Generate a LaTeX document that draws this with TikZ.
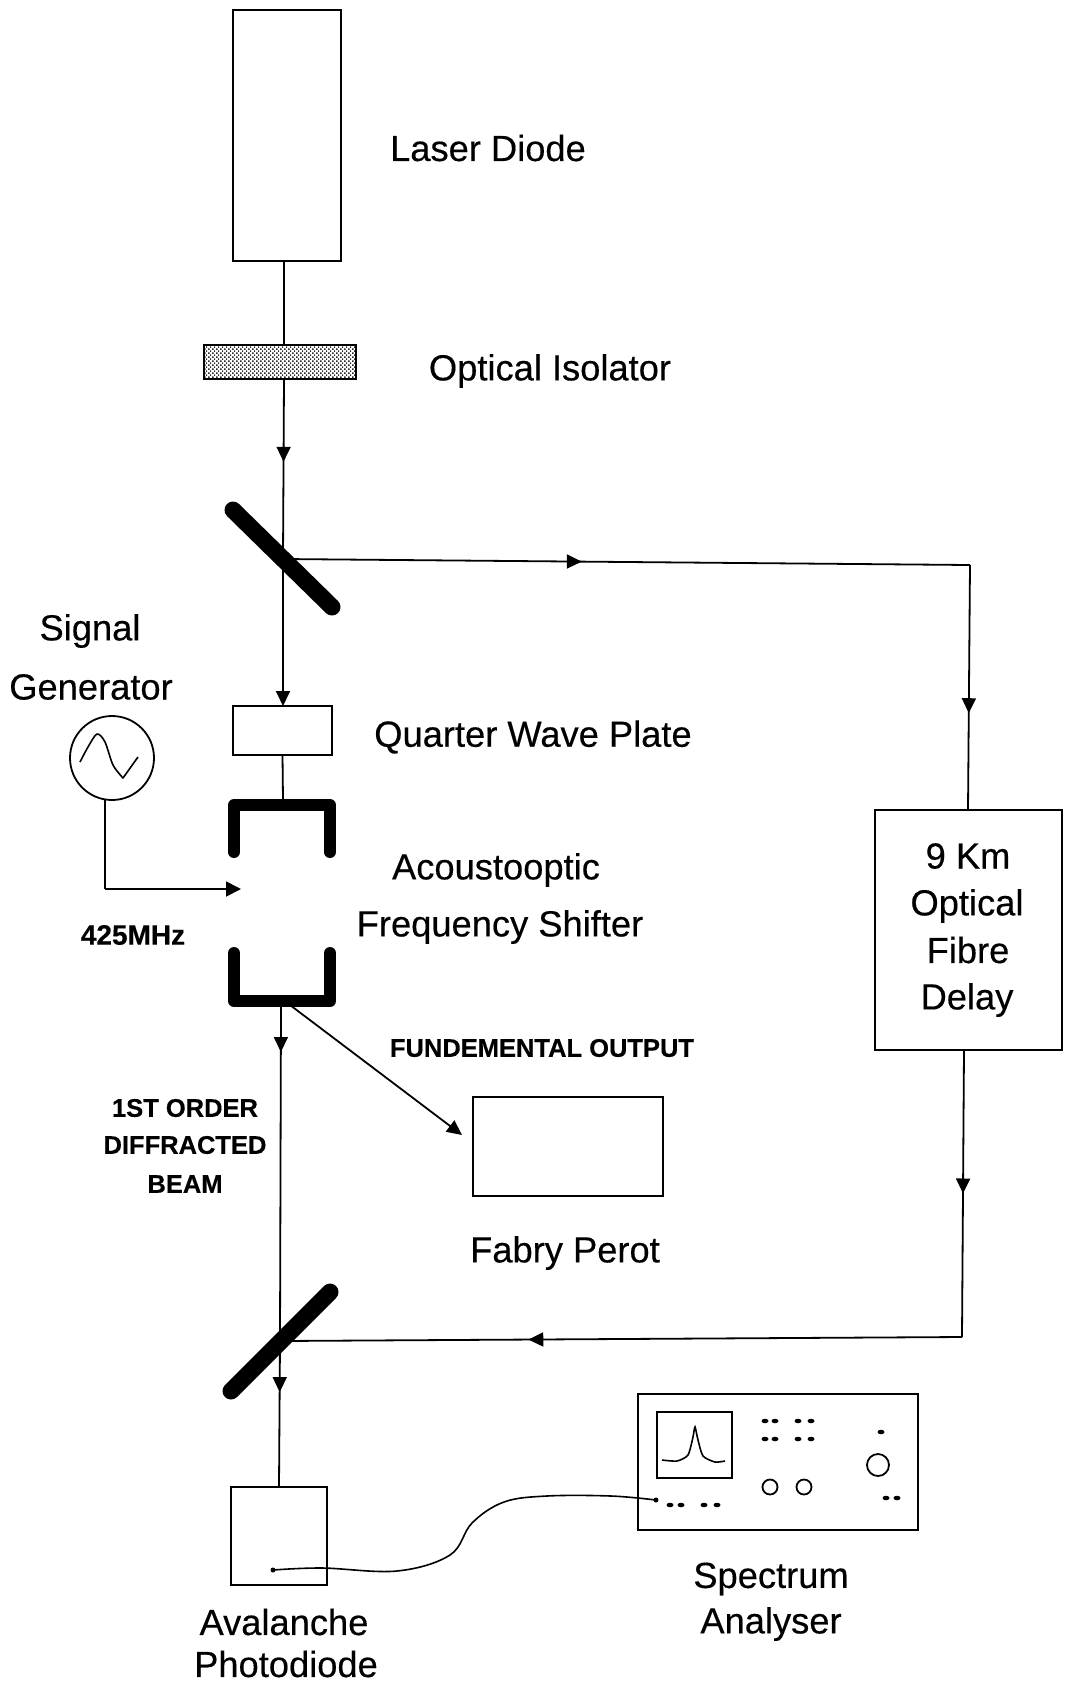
\documentclass[tikz,border=0pt]{standalone}
\usepackage{fontspec}
\setmainfont[FakeBold=0.35]{Liberation Sans}
\usetikzlibrary{arrows.meta,decorations.markings,patterns,shapes.geometric}
\pgfdeclarepatternformonly{isodots}{\pgfqpoint{-1pt}{-1pt}}{\pgfqpoint{3pt}{3pt}}{\pgfqpoint{4pt}{4pt}}{%
  \pgfpathrectangle{\pgfqpoint{0pt}{0pt}}{\pgfqpoint{1.6pt}{1.6pt}}%
  \pgfpathrectangle{\pgfqpoint{2pt}{2pt}}{\pgfqpoint{1.6pt}{1.6pt}}%
  \pgfusepath{fill}}
\tikzset{
  x=1pt,y=-1pt,
  box/.style={draw=black,line width=2pt,fill=white,inner sep=0pt,outer sep=0pt},
  wire/.style={draw=black,line width=1.8pt},
  tip/.style={-{Triangle[length=15pt,width=14pt]}},
  midtip/.style={postaction={decorate},decoration={markings,mark=at position #1 with {\arrow{Triangle[length=15pt,width=14pt]}}}},
  mirror/.style={draw=black,line width=17pt,line cap=round},
  bracket/.style={draw=black,line width=12pt,line cap=round,line join=round},
  big/.style={font=\fontsize{36.3}{40}\selectfont,inner sep=0pt},
  small/.style={font=\fontsize{25.5}{28}\selectfont\bfseries,inner sep=0pt},
  speck/.style={fill=black,draw=none,ellipse,inner sep=0pt,minimum width=7pt,minimum height=4.5pt},
  knob/.style={draw=black,line width=1.8pt,circle,inner sep=0pt,outer sep=0pt,fill=white},
}
\begin{document}
\begin{tikzpicture}
\useasboundingbox (0,0) rectangle (1065,1682);
\fill[white] (0,0) rectangle (1065,1682);

% fixed points on the beam path
\coordinate (mtop) at (283,559);
\coordinate (mlow) at (280,1341);
\coordinate (aoftop) at (283,800);
\coordinate (aofbot) at (281,1003);
\coordinate (aofdiag) at (290,1005);
\coordinate (cornerA) at (970,565);
\coordinate (cornerB) at (962,1337);
\coordinate (sigcorner) at (105,889);
\coordinate (siginput) at (241,889);
\coordinate (delayin) at (968,810);
\coordinate (delayout) at (964,1050);

% nodes
\node[box,minimum width=108pt,minimum height=251pt] (laser) at (286.5,135.5) {};
\node[box,minimum width=152pt,minimum height=34pt,line width=2.4pt,fill=none,pattern=isodots,pattern color=black!85] (iso) at (280,362) {};
\node[box,minimum width=99pt,minimum height=49pt] (qwp) at (282.5,730.5) {};
\node[box,minimum width=187pt,minimum height=240pt] (delay) at (968.5,930) {};
\node[box,minimum width=190pt,minimum height=99pt] (fp) at (568,1146.5) {};
\node[box,minimum width=96pt,minimum height=98pt] (apd) at (279,1536) {};
\node[box,minimum width=280pt,minimum height=136pt] (sa) at (778,1462) {};
\node[box,minimum width=75pt,minimum height=66pt] (screen) at (694.5,1445) {};
\node[knob,minimum size=84pt] (sig) at (112,758) {};

% beams
\draw[wire] (laser.south -| 284,0) -- (284,345);
\draw[wire,midtip=0.46] (284,379) -- (mtop);
\draw[wire,tip] (mtop) -- (283,706);
\draw[wire] (qwp.south) -- (aoftop);
\draw[wire,midtip=0.435] (mtop) -- (cornerA);
\draw[wire,midtip=0.605] (cornerA) -- (delayin);
\draw[wire,midtip=0.5] (delayout) -- (cornerB);
\draw[wire,midtip=0.636] (cornerB) -- (mlow);
\draw[wire,midtip=0.145] (aofbot) -- (mlow);
\draw[wire,midtip=0.35] (mlow) -- (279,1487);
\draw[wire,tip] (aofdiag) -- (462,1135);
\draw[wire] (sig.south -| sigcorner) -- (sigcorner);
\draw[wire,-{Triangle[length=15pt,width=15pt]}] (sigcorner) -- (siginput);

% mirrors and frequency shifter
\draw[mirror] (233,510) -- (332,607);
\draw[mirror] (231,1391) -- (330,1292);
\draw[bracket] (234,852) -- (234,805) -- (330,805) -- (330,852);
\draw[bracket] (234,953) -- (234,1001) -- (330,1001) -- (330,953);

% oscillator trace
\draw[line width=1.6pt,line join=round] plot[smooth,tension=0.5] coordinates {(80,762) (88,747) (97,734) (105,742) (113,765) (123,778)} -- (138,757);

% spectrum analyser details
\draw[line width=1.6pt] plot[smooth,tension=0.4] coordinates {(662,1460) (677,1461) (688,1455) (693,1437) (695,1427) (698,1440) (703,1456) (715,1462) (725,1461)};
\node[speck] (d1) at (765,1421) {}; \node[speck] (d2) at (775,1421) {};
\node[speck] (d3) at (798,1421) {}; \node[speck] (d4) at (811,1421) {};
\node[speck] (d5) at (765,1439) {}; \node[speck] (d6) at (775,1439) {};
\node[speck] (d7) at (798,1439) {}; \node[speck] (d8) at (811,1439) {};
\node[speck] (d9) at (881,1432) {};
\node[speck] (d10) at (886,1498) {}; \node[speck] (d11) at (897,1498) {};
\node[speck] (d12) at (670,1505) {}; \node[speck] (d13) at (681,1505) {};
\node[speck] (d14) at (704,1505) {}; \node[speck] (d15) at (717,1505) {};
\node[knob,minimum size=15pt] (k1) at (770,1487) {};
\node[knob,minimum size=15pt] (k2) at (804,1487) {};
\node[knob,minimum size=22pt] (k3) at (878,1465) {};

% cable
\node[speck,minimum width=5pt,minimum height=5pt] (cablein) at (273,1570) {};
\node[speck,minimum width=5pt,minimum height=5pt] (cableout) at (656,1500) {};
\draw[line width=1.6pt] plot[smooth,tension=0.6] coordinates {(cablein) (322,1568) (397,1571) (450,1555) (472,1523) (504,1502) (547,1496) (611,1496) (cableout)};

% labels
\node[big] (t1) at (488,148) {Laser Diode};
\node[big] (t2) at (550,371) {Optical Isolator};
\node[big] (t3) at (90,631) {Signal};
\node[big] (t4) at (91,687) {Generator};
\node[big] (t5) at (533,737) {Quarter Wave Plate};
\node[big] (t6) at (496,870) {Acoustooptic};
\node[big] (t7) at (500,927) {Frequency Shifter};
\node[small,font=\fontsize{28}{30}\selectfont\bfseries] (t8) at (133,935) {425MHz};
\node[small] (t9) at (542,1048) {FUNDEMENTAL OUTPUT};
\node[small] (t10) at (185,1108) {1ST ORDER};
\node[small] (t11) at (185,1145) {DIFFRACTED};
\node[small] (t12) at (185,1184) {BEAM};
\node[big] (t13) at (565,1253) {Fabry Perot};
\node[big] (t14) at (968,856) {9 Km};
\node[big] (t15) at (967,906) {Optical};
\node[big] (t16) at (968,950) {Fibre};
\node[big] (t17) at (967,1000) {Delay};
\node[big] (t18) at (771,1579) {Spectrum};
\node[big] (t19) at (771,1624) {Analyser};
\node[big] (t20) at (284,1622) {Avalanche};
\node[big] (t21) at (286,1664) {Photodiode};
\end{tikzpicture}
\end{document}
